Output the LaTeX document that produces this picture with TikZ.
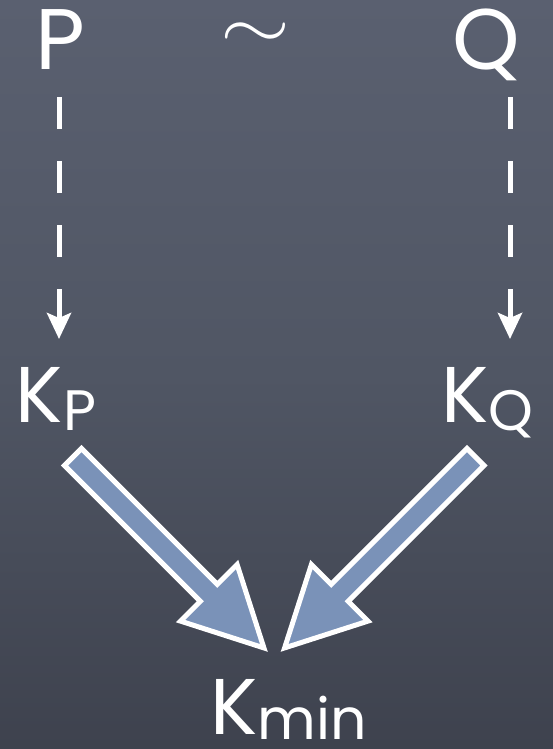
\documentclass[tikz,border=0pt]{standalone}
\usepackage{fontspec}
\setmainfont{Poppins}
\usetikzlibrary{arrows.meta}
\definecolor{bgtop}{RGB}{90,96,112}
\definecolor{bgmid}{RGB}{80,86,100}
\definecolor{bgbot}{RGB}{62,66,78}
\definecolor{arrowfill}{RGB}{122,146,184}
\tikzset{
  lbl/.style={inner sep=0pt, outer sep=0pt, text=white, anchor=base west},
  dasharrow/.style={white, line width=5pt, dash pattern=on 32pt off 32pt,
    -{Stealth[width=24pt,length=26pt,inset=5pt]}},
  blockarrow/.style={draw=white, line width=5pt, fill=arrowfill, line join=miter},
}
\newcommand{\bigf}{\fontsize{86}{86}\selectfont}
\newcommand{\midf}{\fontsize{79}{79}\selectfont}
\newcommand{\subf}{\fontsize{57}{57}\selectfont}
\begin{document}
\begin{tikzpicture}[x=1pt,y=-1pt]
  \useasboundingbox (0,0) rectangle (553,749);
  \shade[top color=bgtop, bottom color=bgbot, middle color=bgmid] (0,0) rectangle (553,749);

  % labels
  \node[lbl] (P) at (35,70) {\bigf P};
  \node[lbl] (Q) at (452,70) {\bigf Q};
  \node[inner sep=0pt, text=white] (sim) at (255,36) {\scalebox{9}[7]{$\sim$}};
  \node[lbl] (KP) at (16,422) {\midf K\raisebox{-8pt}{\subf P}};
  \node[lbl] (KQ) at (441,422) {\midf K\raisebox{-8pt}{\subf Q}};
  \node[lbl] (Kmin) at (210,734) {\midf K\raisebox{-5pt}[\height][0pt]{\subf min}};

  % dashed connectors
  \coordinate (pstart) at (59,97);
  \coordinate (pend) at (59,339);
  \coordinate (qstart) at (510,97);
  \coordinate (qend) at (510,339);
  \draw[dasharrow] (pstart) -- (pend);
  \draw[dasharrow] (qstart) -- (qend);

  % block arrows
  \draw[blockarrow] (81.5,448.5) -- (217.3,584.3) -- (237.1,564.5) -- (263.9,647.9)
     -- (180.5,621.1) -- (200.3,601.3) -- (64.5,465.5) -- cycle;
  \draw[blockarrow] (467,448.5) -- (331.2,584.3) -- (311.4,564.5) -- (284.6,647.9)
     -- (368,621.1) -- (348.2,601.3) -- (484,465.5) -- cycle;
\end{tikzpicture}
\end{document}
